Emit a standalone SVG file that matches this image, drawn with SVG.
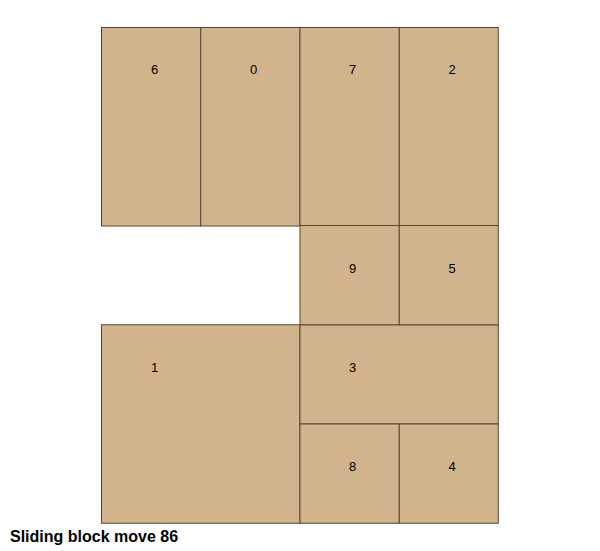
<svg xmlns="http://www.w3.org/2000/svg" width="600" height="551" viewBox="0 0 600 551">
<style>
.b{fill:#D2B48C;stroke:#5a4630;stroke-width:1}
.l{font-family:"Liberation Sans",Arial,sans-serif;font-size:13px;fill:#000;text-anchor:middle}
.t{font-family:"Liberation Sans",Arial,sans-serif;font-size:16px;font-weight:bold;fill:#000}
</style>
<rect width="600" height="551" fill="#fff"/>
<g id="block6"><rect class="b" x="101.5" y="27.5" width="99.25" height="198.5"/><text class="l" x="154.5" y="73.5">6</text></g>
<g id="block0"><rect class="b" x="200.75" y="27.5" width="99.25" height="198.5"/><text class="l" x="253.5" y="73.5">0</text></g>
<g id="block7"><rect class="b" x="300" y="27.5" width="99.25" height="198"/><text class="l" x="352.5" y="73.5">7</text></g>
<g id="block2"><rect class="b" x="399.25" y="27.5" width="99" height="198"/><text class="l" x="452" y="73.5">2</text></g>
<g id="block9"><rect class="b" x="300" y="225.5" width="99.25" height="99.5"/><text class="l" x="352.5" y="272.5">9</text></g>
<g id="block5"><rect class="b" x="399.25" y="225.5" width="99" height="99.5"/><text class="l" x="452" y="272.5">5</text></g>
<g id="block1"><rect class="b" x="101.5" y="324.75" width="198.5" height="198.5"/><text class="l" x="154.5" y="371.5">1</text></g>
<g id="block3"><rect class="b" x="300" y="325" width="198.25" height="99"/><text class="l" x="352.5" y="371.5">3</text></g>
<g id="block8"><rect class="b" x="300" y="424" width="99.25" height="99.25"/><text class="l" x="352.5" y="470.5">8</text></g>
<g id="block4"><rect class="b" x="399.25" y="424" width="99" height="99.25"/><text class="l" x="452" y="470.5">4</text></g>
<g id="connectors"/>
<text class="t" x="10" y="542">Sliding block move 86</text>
</svg>
